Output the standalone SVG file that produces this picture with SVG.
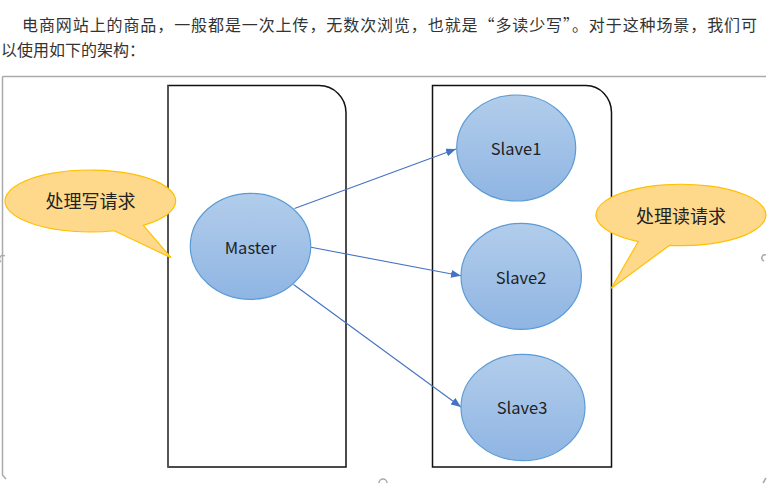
<svg xmlns="http://www.w3.org/2000/svg" width="780" height="484" viewBox="0 0 780 484">
<defs>
<linearGradient id="blue" x1="0" y1="0" x2="0" y2="1">
<stop offset="0" stop-color="#b2cdeb"/>
<stop offset="1" stop-color="#8fb5e3"/>
</linearGradient>
<marker id="arr" viewBox="0 0 10 8" refX="10" refY="4" markerWidth="10" markerHeight="8" markerUnits="userSpaceOnUse" orient="auto">
<path d="M0,0 L10,4 L0,8 Z" fill="#4472c4"/>
</marker>
<style>
.para{font-family:"Noto Sans CJK SC","Liberation Sans",sans-serif;font-size:16px;fill:#333}
.node{fill:url(#blue);stroke:#5b9bd5;stroke-width:1.2}
.lbl{font-family:"Noto Sans CJK SC","Noto Sans",sans-serif;font-size:16.5px;fill:#222;text-anchor:middle;dominant-baseline:central}
.call{fill:#ffd98b;stroke:#ffc000;stroke-width:1.2}
.ctext{font-family:"Noto Sans CJK SC",sans-serif;font-size:18px;fill:#222;text-anchor:middle;dominant-baseline:central}
.box{fill:#fff;stroke:#111;stroke-width:1.5}
.conn{stroke:#4472c4;stroke-width:1.1;fill:none;marker-end:url(#arr)}
.frame{stroke:#aaa;stroke-width:1.5;fill:none}
</style>
</defs>
<rect width="780" height="484" fill="#fff"/>
<text class="para" x="22" y="31" textLength="735" lengthAdjust="spacing">电商网站上的商品，一般都是一次上传，无数次浏览，也就是“多读少写”。对于这种场景，我们可</text>
<text class="para" x="1" y="56">以使用如下的架构：</text>
<g id="frame">
<path class="frame" d="M2.5,76.5 H766"/>
<path class="frame" d="M2.5,76.5 V475 L6,479"/>
<path class="frame" d="M1,262 A3.5,3.5 0 0 1 5,256"/>
<path class="frame" d="M379,483 A4,4 0 0 1 387,483"/>
<path class="frame" d="M764,261 A3,3 0 0 1 766,255"/>
<path class="frame" d="M763,483 L766,478"/>
</g>
<g id="write-box">
<path class="box" d="M168,85.5 H319 A27,27 0 0 1 346,112.5 V467 H168 Z"/>
<path d="M168,85.5 V467" stroke="#555" stroke-width="2" fill="none"/>
</g>
<g id="read-box">
<path class="box" d="M432.5,85.5 H586 A25.5,27 0 0 1 611.5,112.5 V467 H432.5 Z"/>
</g>
<g id="connectors">
<line class="conn" x1="294.5" y1="208.5" x2="456" y2="149"/>
<line class="conn" x1="311" y1="247.3" x2="461" y2="275.7"/>
<line class="conn" x1="293.5" y1="284.5" x2="461" y2="407"/>
</g>
<g id="master">
<ellipse class="node" cx="250.5" cy="246.3" rx="60.2" ry="53"/>
<text class="lbl" x="250.5" y="246.5">Master</text>
</g>
<g id="slave1">
<ellipse class="node" cx="516.2" cy="148" rx="59.5" ry="53"/>
<text class="lbl" x="516" y="148">Slave1</text>
</g>
<g id="slave2">
<ellipse class="node" cx="521.2" cy="276.3" rx="60.2" ry="53"/>
<text class="lbl" x="521" y="276.5">Slave2</text>
</g>
<g id="slave3">
<ellipse class="node" cx="523" cy="407.5" rx="62" ry="53.2"/>
<text class="lbl" x="522" y="407">Slave3</text>
</g>
<g id="write-callout">
<path class="call" d="M143.3,225.3 L171,257.7 L114.3,230.75 A85.3,31 0 1 1 143.3,225.3 Z"/>
<text class="ctext" x="90.5" y="200">处理写请求</text>
</g>
<g id="read-callout">
<path class="call" d="M638.3,241.55 L611.3,288.3 L669.3,245.4 A85,30.7 0 1 0 638.3,241.55 Z"/>
<text class="ctext" x="681" y="214.5">处理读请求</text>
</g>
</svg>
